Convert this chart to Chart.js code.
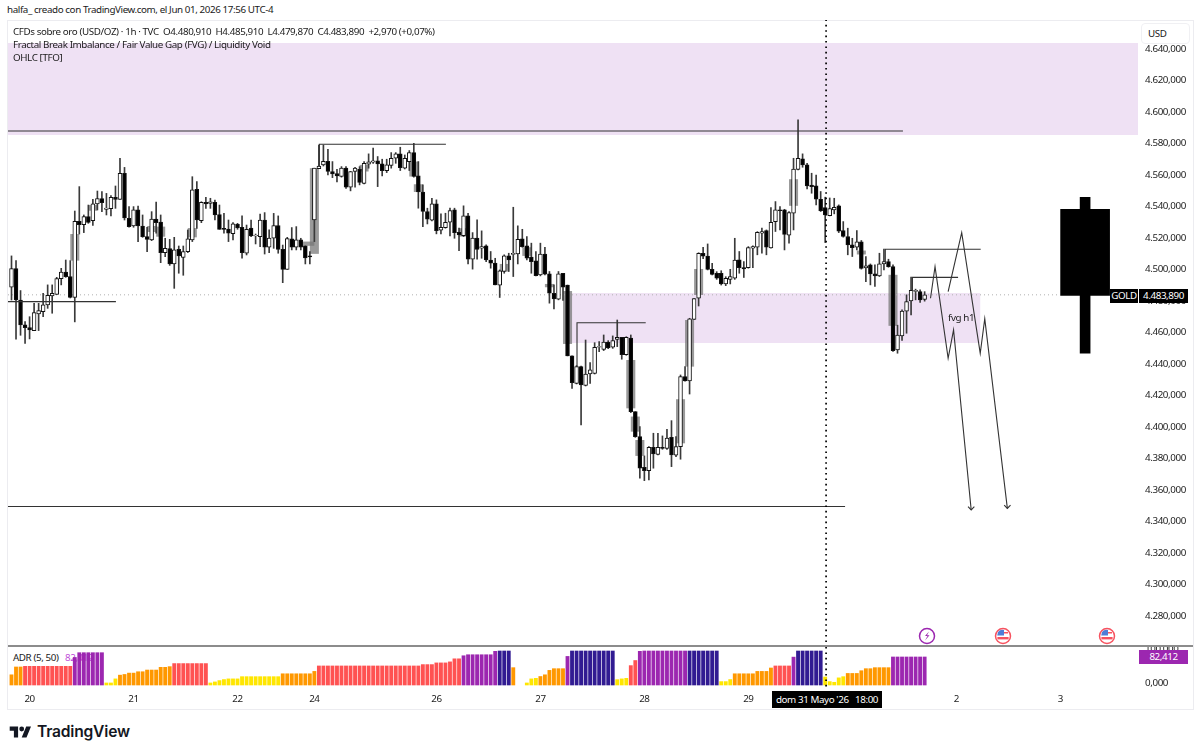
<!DOCTYPE html>
<html>
<head>
<meta charset="utf-8">
<title>XAUUSD 1h</title>
<script src="https://cdn.jsdelivr.net/npm/chart.js@4"></script>
<style>
	html, body { margin: 0; padding: 0; background: #fff; width: 1200px; height: 755px; overflow: hidden; }
	body { font-family: "Noto Sans", sans-serif; color: #1a1a1a; }
	.t { position: absolute; white-space: pre; font-size: 9.8px; letter-spacing: -0.4px; line-height: 13px; }
	canvas { position: absolute; }
	#frame { position: absolute; left: 7px; top: 20px; width: 1185px; height: 688px; border: 1px solid #ececf0; }
	#sep { position: absolute; left: 8px; top: 645px; width: 1185px; height: 2px; background: #8c8c8c; }
	#usd { position: absolute; left: 1141px; top: 23px; width: 47px; height: 19px; border: 1px solid #f0f0f3; border-radius: 4px; background: #fff; }
	.blk { position: absolute; background: #000; color: #fff; font-size: 9.8px; letter-spacing: -0.4px; line-height: 14px; text-align: center; white-space: pre; }
	svg { position: absolute; }
</style>
</head>
<body>
<div id="frame"></div>
<div class="t" style="left:7px;top:3px">halfa_ creado con TradingView.com, el Jun 01, 2026 17:56 UTC-4</div>

<div class="t" style="left:13px;top:651px;z-index:0">ADR (5, 50)</div>
<div class="t" style="left:65px;top:651px;color:#c04fd8;z-index:0">82,412</div>

<canvas id="price" width="1185" height="626" style="left:8px;top:20px;z-index:1"></canvas>
<canvas id="adr" width="1185" height="63" style="left:8px;top:646px;z-index:1"></canvas>

<div id="sep" style="z-index:2"></div>
<div class="t" style="left:13px;top:25px;z-index:3">CFDs sobre oro (USD/OZ) · 1h · TVC  O4.480,910  H4.485,910  L4.479,870  C4.483,890  +2,970 (+0,07%)</div>
<div class="t" style="left:13px;top:38px;z-index:3">Fractal Break Imbalance / Fair Value Gap (FVG) / Liquidity Void</div>
<div class="t" style="left:13px;top:51px;z-index:3">OHLC [TFO]</div>
<div class="t" style="left:948px;top:311px;z-index:3">fvg h1</div>
<div id="usd" style="z-index:3"></div>
<div class="t" style="left:1148px;top:27px;z-index:3">USD</div>
<div class="blk" style="left:1110px;top:289px;width:28px;height:14px;z-index:3">GOLD</div>
<div class="blk" style="left:1139px;top:289px;width:49px;height:14px;z-index:3">4.483,890</div>
<div class="blk" style="left:1139px;top:650px;width:49px;height:14px;background:#9c27b0;z-index:3">82,412</div>
<div class="blk" style="left:772px;top:691px;width:110px;height:17px;line-height:17px;z-index:3">dom 31 Mayo '26   18:00</div>

<svg style="left:917px;top:626px;z-index:3" width="20" height="20" viewBox="0 0 20 20">
	<circle cx="10" cy="10" r="7.5" fill="#fff" stroke="#9c27b0" stroke-width="1.5"/>
	<path d="M12 5.5 L8 10 L10.5 10 L8 14.5 L12.5 9.2 L10 9.2 Z" fill="#9c27b0"/>
</svg>
<svg style="left:993px;top:626px;z-index:3" width="20" height="20" viewBox="0 0 20 20">
	<circle cx="10" cy="10" r="7.5" fill="#fff" stroke="#f7525f" stroke-width="1.5"/>
	<path d="M5 6 A6 6 0 0 1 11 4 L11 9.5 L4.2 9.5 Z" fill="#4f7dd6"/>
	<rect x="4.4" y="11" width="11.2" height="2.4" fill="#f7525f"/>
	<path d="M11 6 h4 v1.5 h-4z" fill="#f7525f"/>
</svg>
<svg style="left:1097px;top:626px;z-index:3" width="20" height="20" viewBox="0 0 20 20">
	<circle cx="10" cy="10" r="7.5" fill="#fff" stroke="#f7525f" stroke-width="1.5"/>
	<path d="M5 6 A6 6 0 0 1 11 4 L11 9.5 L4.2 9.5 Z" fill="#4f7dd6"/>
	<rect x="4.4" y="11" width="11.2" height="2.4" fill="#f7525f"/>
	<path d="M11 6 h4 v1.5 h-4z" fill="#f7525f"/>
</svg>

<svg style="left:9px;top:726px" width="23" height="12" viewBox="0 3 36 20">
	<path d="M14 22H7V11H0V4h14v18zM28 22h-8l7.5-18h8L28 22z" fill="#131722"/>
	<circle cx="20" cy="8" r="4" fill="#131722"/>
</svg>
<div class="t" style="left:37px;top:722px;font-family:Inter,sans-serif;font-size:15.6px;line-height:20px;font-weight:600;color:#131722;letter-spacing:-0.2px">TradingView</div>

<script>
// hourly bars, one row = 10 bars
const opens = [
	4488.7,4500.5,4480.6,4464.8,4463.1,4461.2,4471.7,4473.2,4477.5,4483.2,
	4484.2,4494.2,4498.4,4495.4,4482.3,4530.6,4528.5,4533.5,4531,4541.6,
	4545,4538.2,4538.6,4545.8,4544.5,4561,4532.5,4527.6,4537.8,4527.6,
	4520.8,4518.7,4532,4530.1,4510.7,4513.2,4503.5,4512.8,4507.7,4511.3,
	4518.7,4550.9,4531,4542.6,4542,4542.6,4534.8,4526.1,4525.7,4522.7,
	4528.7,4526.8,4510.3,4526.3,4521.3,4520.8,4531.4,4514.1,4519.8,4527.8,
	4512.8,4500.1,4519.4,4514.1,4518.8,4515,4508.6,4531.5,4564,4566.4,
	4568.7,4562.2,4560.9,4559,4564.3,4552.2,4562.2,4563.6,4554.7,4566.8,
	4568.1,4568.9,4567,4562.8,4566,4570.6,4573.4,4564.3,4568.5,4574.2,
	4559.4,4549.2,4536.8,4531.3,4541.6,4524.9,4526.6,4530,4537.8,4523.6,
	4521.5,4534,4506.5,4520,4513.5,4515,4505.9,4504,4490,4498.7,
	4508.6,4509.5,4509.9,4519.4,4515,4507.8,4505.4,4496.6,4509.7,4497.2,
	4484.9,4481.1,4497.6,4490.1,4445.1,4427.7,4438.3,4426.4,4433.6,4434,
	4450.6,4449.3,4453.9,4450.6,4455.6,4456.9,4445.9,4456.5,4409.7,4393.9,
	4374.4,4372.3,4387.1,4382.6,4387.1,4386.3,4393.4,4382,4387.5,4432,
	4429.2,4468.3,4481.7,4510.2,4508.5,4500.1,4497.5,4497.5,4490.8,4493.7,
	4494.4,4506.1,4501.2,4501.2,4513.5,4514.1,4523,4524.7,4513.7,4530.4,
	4537.8,4537.8,4521.7,4535.7,4563.6,4570.2,4566.4,4553.5,4553.1,4544.6,
	4539.3,4534.2,4537.8,4540.4,4524.7,4520.9,4515.6,4514.1,4517.5,4501,
	4502.9,4497.2,4495.9,4503.5,4505,4501.8,4448.9,4457.8,4473.5,4480,
	4486,4486,4480.91
];
const closes = [
	4500.5,4480.6,4464.8,4463.1,4461.6,4472.6,4473.9,4477.5,4483.6,4484.9,
	4494.2,4498.4,4495.4,4482.3,4530.6,4528.5,4533.5,4529.9,4541.6,4545,
	4542.4,4539,4545.8,4544.5,4561,4532.7,4527.2,4537.8,4527.6,4520.8,
	4519.1,4532,4529.7,4510.7,4513.4,4503.5,4512.4,4508.6,4511.3,4519.4,
	4550.5,4531.4,4542.6,4541.6,4543,4534.6,4525.5,4525.5,4523,4528.9,
	4526.3,4510.7,4525.5,4521.3,4521.7,4531.4,4514.1,4520,4527.8,4512.8,
	4500.1,4519.6,4514.1,4518.8,4514.1,4507.3,4508,4564.3,4565.7,4568.7,
	4562.2,4560.7,4559.4,4564.3,4552.2,4562.2,4564.3,4555.2,4567.4,4568.3,
	4568.9,4567,4562.8,4566.4,4570.6,4573.4,4564.7,4570.6,4574.2,4559,
	4549.2,4536.8,4531.9,4541.6,4524.7,4526.8,4530,4537.4,4523.4,4521.9,
	4534,4506.5,4520,4512.8,4514.5,4506.1,4504,4490.2,4499.1,4508.6,
	4506.1,4510.3,4519.2,4514.5,4507.1,4505,4496.1,4509.7,4497,4484.9,
	4481.3,4497.2,4488.7,4445.1,4428.1,4438.3,4426.7,4433.6,4436.2,4450.6,
	4451,4453.9,4450.1,4454.8,4456.9,4445.9,4456.9,4409.7,4393.9,4373.8,
	4372.3,4387.1,4382.9,4387.1,4386.3,4393,4382.2,4387.5,4432,4429.2,
	4468.6,4481.5,4510.2,4508.5,4500.1,4496.9,4494.4,4490.8,4494.4,4495.4,
	4506,4501.2,4500.4,4513.9,4514.5,4523.6,4524,4514.1,4530,4537.8,
	4537.4,4522.2,4536.1,4563.8,4570.6,4566.4,4553.1,4552.6,4544.6,4537.4,
	4534.6,4538.7,4539.5,4524.3,4520.9,4515.6,4513.9,4517.5,4500.6,4502.3,
	4497.2,4495.9,4503.5,4505,4501.8,4448.5,4458.3,4473.5,4479.6,4486.8,
	4486.8,4480.7,4483.89
];
const highs = [
	4508.6,4505.6,4486.6,4466.9,4470,4478.5,4478.5,4484.9,4490.2,4490.2,
	4495,4500.7,4506,4505.6,4537.1,4552.6,4534.6,4540.9,4544.5,4549.8,
	4549.4,4548.3,4546.9,4553,4570.6,4564.8,4539.9,4539.9,4540.3,4534.6,
	4526.8,4536.7,4542.8,4534.6,4519.8,4519.1,4520.4,4514.9,4514.9,4525.1,
	4558.9,4555.8,4543,4545.8,4545.2,4544.1,4540.9,4535.6,4531.4,4529.7,
	4529.3,4534,4528.2,4531.4,4522.5,4535.2,4536.1,4525.1,4535.6,4534,
	4515.5,4520.4,4526.6,4527.2,4519.8,4515,4511.4,4564.3,4579,4579,
	4576.3,4568.5,4563.6,4565.3,4565.3,4562.2,4564.9,4565.3,4568.5,4573.4,
	4577,4571.7,4570,4570,4574.2,4574.2,4577.6,4572.7,4575.5,4580.1,
	4568.5,4553.7,4538.9,4545.2,4544.2,4535.3,4535.7,4538.9,4538.9,4526.2,
	4540.4,4535.7,4523.4,4531.5,4524.5,4515.6,4511.4,4507.1,4499.7,4509.3,
	4510.3,4539.5,4527.7,4525.5,4520.9,4516.7,4511.4,4516.7,4514.1,4498.7,
	4490.2,4498.7,4497.6,4490.1,4445.1,4439,4438.7,4455.2,4440.8,4453.5,
	4454.2,4458.4,4454.8,4457.8,4467.9,4456.9,4457.3,4458.4,4409.7,4400.2,
	4381.6,4387.5,4396,4396,4394.3,4398.5,4404,4393.9,4433,4438.3,
	4469,4481.5,4510.6,4514,4516.2,4503.9,4498.6,4499.2,4495.4,4500.1,
	4519.8,4511.4,4505,4514.5,4515,4524,4526.2,4525.1,4539.3,4543.1,
	4539.9,4538.2,4536.8,4570.6,4595,4573.4,4567.4,4561.1,4560,4549.5,
	4545.9,4545.4,4545.2,4541,4530.4,4526.2,4519.8,4524.7,4518.4,4508.2,
	4503.5,4502.9,4510.3,4512.9,4506.5,4502.9,4464.6,4474.3,4483.9,4495.1,
	4487.5,4487,4485.91
];
const lows = [
	4480.6,4455.7,4458.2,4453.1,4455.9,4461.2,4461.2,4470,4475.3,4472.2,
	4484.2,4490.2,4495,4481.9,4466.7,4522.5,4523.4,4529.3,4528,4537.8,
	4536.7,4534.6,4534,4538.8,4544.5,4531.4,4526.8,4526.8,4517.7,4520.4,
	4511.3,4518.3,4523,4504.3,4508.1,4502.6,4488,4497.6,4496.3,4510.7,
	4517.7,4526.1,4529.7,4538.8,4538.8,4531.4,4525.5,4523,4517.7,4518.7,
	4525.5,4507.1,4509.2,4520.8,4516.2,4514.5,4509.8,4510.7,4513.4,4510.3,
	4491.6,4500.1,4512.4,4512.4,4512.4,4503.5,4503.5,4517.7,4564,4565.7,
	4560,4558.3,4555.6,4558.6,4551.4,4549.9,4552.2,4553.7,4554.3,4564.3,
	4567.4,4552.6,4559.4,4561.5,4564.3,4567.4,4562.8,4563.8,4562.8,4558.6,
	4538.9,4527.2,4528.9,4530.8,4522.6,4522.6,4526.2,4521.3,4519.8,4512,
	4520.9,4503.5,4500.2,4506.5,4507.1,4505,4500.8,4490.2,4482.2,4497.6,
	4498.7,4495.5,4503.5,4514.1,4506.1,4497.6,4495.9,4495.9,4496.6,4478.6,
	4475,4480.7,4480.3,4445.1,4424.5,4427.3,4401.3,4426,4427.7,4433.6,
	4447.8,4448.5,4449.7,4449.9,4451,4443,4445.5,4409.1,4393.4,4367.4,
	4365.9,4366.4,4373.8,4382.2,4385.8,4385.8,4374.8,4381.2,4379.5,4429,
	4420.9,4468.3,4476.8,4506.9,4499.7,4496.5,4493.7,4490.1,4489.7,4490.8,
	4493.7,4497.6,4494.9,4500.8,4501.2,4509.3,4510.3,4509.3,4513.5,4524.1,
	4525.1,4512.4,4516.7,4525.1,4563.2,4564.9,4551.2,4548.4,4541,4536.8,
	4517.1,4534,4535.3,4523.4,4520.5,4509.3,4508.2,4512.4,4500.2,4492.3,
	4490.2,4489.2,4495.5,4499.7,4501.4,4447.9,4446.8,4454.9,4459.5,4471.2,
	4480.7,4479,4479.87
];

const adrValues = [
	30,53,53,55,55,55,55,55,55,55,
	55,55,55,55,81,95,95,95,95,95,
	95,6,6,18,29,31,35,35,39,39,
	44,44,44,52,52,54,63,63,63,63,
	63,63,63,63,6,9,13,16,18,18,
	18,24.5,24.5,24.5,24.5,24.5,24.5,24.5,24.5,24.5,
	33,33,33,33,33,33,33,40,56,56,
	56,56,56,56,56,56,56,56,56,56,
	56,56,56,56,56,56,56,56,56,56,
	56,60,60,60,65,65,65,68,77,77,
	86,89,89,89,89,89,89,99,100,100,
	100,51,null,null,6,18,19.6,25,30,43,
	48,48,48,84,100,100,100,100,100,100,
	100,100,100,100,15.7,18,19.6,57,72,99,
	100,100,100,100,100,100,100,100,100,100,
	100,100,100,100,100,100,100,10,10,16,
	33,33,33,33,33,40,40,40,50,56,
	56,56,56,82,100,100,100,100,100,100,
	23.5,10,8,21,24.5,34,34,34,42,48,
	48,51,51,51,51,82.4,82.4,82.4,82.4,82.4,
	82.4,82.4,82.4
];
const adrBands = [
	'ooorrrrrrr','rrrrpppppp','pyyyoooooo','oooooorrrr','rrrryyyyyy',
	'yyyyyyyyyy','oooooooorr','rrrrrrrrrr','rrrrrrrrrr','rrrrrrrrrr',
	'ppppppppbb','bo--yyyooo','ooopbbbbbb','bbbbyyyrrp','pppppppppp',
	'bbbbbbbyyy','ooooooooor','rrrpbbbbbb','yyyyyooooo','oooooppppp','ppp'
].join('').split('');
const bandColors = { y: '#ffe600', o: '#ff9800', r: '#ff5252', p: '#9c27b0', b: '#311b92', '-': 'transparent' };

const priceTicksStep = 20;
const lastClose = 4483.89;
const crosshairBar = 180.2;
const timeTickBars = [4, 27, 50, 67, 94, 117, 140, 163, 186, 209, 232];
const timeTickLabels = ['20', '21', '22', '24', '26', '27', '28', '29', '1', '2', '3'];

// [first bar, last bar, top, bottom]
const fvgZones = [
	[-1, 250, 4643.8, 4585.4],
	[123.1, 214.3, 4485, 4453.3]
];
const imbalanceBoxes = [
	[13, 15, 4522.5, 4505.6], [17, 19, 4540.9, 4537.3], [30, 32, 4527.6, 4523.8], [32, 34, 4527.2, 4520.8],
	[39, 41, 4526.3, 4520.4], [66, 68, 4564.3, 4509.9], [64, 67, 4517.7, 4515], [77, 79, 4566.4, 4562.2],
	[88, 90, 4568.5, 4559], [89, 91, 4554.1, 4549.2], [99, 101, 4526.2, 4520.9], [108, 110, 4503.5, 4498.7],
	[113, 115, 4514.1, 4508.6], [118, 120, 4490.8, 4488.7], [122, 124, 4486.3, 4452.7], [136, 138, 4442.5, 4411.8],
	[137, 139, 4406.6, 4397], [138, 140, 4391.7, 4381.6], [147, 149, 4417.6, 4389.6], [149, 151, 4467.9, 4438.3],
	[151, 153, 4500.3, 4483.8], [172, 174, 4557.3, 4540.4], [187, 189, 4512, 4509.5], [194, 196, 4496.6, 4464.2]
];

// hand drawn lines, each is bars + prices
const lineBars = [
	[-1, 197.2], [-1, 184.4], [-1, 23.1],
	[68.1, 68.1, 96.1], [125.1, 125.1, 140.3], [193.3, 193.3, 214.4], [199.3, 199.3, 209.4],
	[203.3, 204.3, 207.2, 208.4, 212.3], [211.6, 212.3, 213],
	[207.2, 210.2, 214.3, 215.3, 220.3], [219.6, 220.3, 221]
];
const linePrices = [
	[4587.9, 4587.9], [4349.5, 4349.5], [4479.6, 4479.6],
	[4565.1, 4579.5, 4579.5], [4438, 4466.2, 4466.2], [4504.7, 4512.8, 4512.8], [4486.3, 4495, 4495],
	[4481.7, 4501.8, 4443.6, 4461.6, 4347.3], [4349.4, 4347.3, 4349.4],
	[4485.9, 4523.4, 4446.8, 4468.7, 4348.3], [4350.4, 4348.3, 4350.4]
];

// TFO higher timeframe candle on the right
const htfBar = 237.5;
const htfOpen = 4538.2, htfHigh = 4545.8, htfLow = 4446.8, htfClose = 4483.5;

const xMin = -0.774, xMax = 249.2;
const tickFont = { family: '"Noto Sans", sans-serif', size: 9.8 };
const bars = opens.map((o, i) => i);

function priceLabel(v) {
	return v.toLocaleString('de-DE', { minimumFractionDigits: 3, maximumFractionDigits: 3 });
}

// keep the plot area at full canvas height, labels may hang over the edge
function fitAxis(s) {
	s.width = 55;
	s.paddingTop = 0;
	s.paddingBottom = 0;
}

const tightText = {
	id: 'tightText',
	beforeDraw(chart) { chart.ctx.letterSpacing = '-0.4px'; }
};

const boxesPlugin = {
	id: 'boxes',
	beforeDatasetsDraw(chart) {
		const { ctx, chartArea, scales: { x, y } } = chart;
		ctx.save();
		ctx.beginPath();
		ctx.rect(chartArea.left, chartArea.top, chartArea.width, chartArea.height);
		ctx.clip();
		const fill = (list, color) => {
			ctx.fillStyle = color;
			list.forEach(b => {
				const x0 = x.getPixelForValue(b[0]), x1 = x.getPixelForValue(b[1]);
				const y0 = y.getPixelForValue(b[2]), y1 = y.getPixelForValue(b[3]);
				ctx.fillRect(x0, y0, x1 - x0, y1 - y0);
			});
		};
		fill(fvgZones, '#efe1f4');
		fill(imbalanceBoxes, 'rgba(120,120,120,0.75)');
		ctx.restore();
	}
};

function hLine(xs, ys, color, width, dash, order) {
	return {
		type: 'line',
		data: xs.map((v, i) => ({ x: v, y: ys[i] })),
		borderColor: color,
		borderWidth: width,
		borderDash: dash || [],
		pointRadius: 0,
		tension: 0,
		order: order
	};
}

const priceDatasets = [
	hLine([xMin, 232], [lastClose, lastClose], '#b0b0b0', 1, [1, 3], 9),
	{
		type: 'bar',
		data: bars.map(i => ({ x: i, y: [lows[i], highs[i]] })),
		backgroundColor: '#3a3a3a',
		barThickness: 1,
		order: 8
	},
	{
		type: 'bar',
		data: bars.map(i => ({ x: i, y: [opens[i], closes[i]] })),
		backgroundColor: bars.map(i => closes[i] >= opens[i] ? '#fff' : '#000'),
		borderColor: '#111',
		borderWidth: 1,
		borderSkipped: false,
		barThickness: 3.9,
		order: 7
	},
	{
		type: 'bar',
		data: [{ x: htfBar, y: [htfLow, htfHigh] }],
		backgroundColor: '#000',
		barThickness: 10,
		order: 6
	},
	{
		type: 'bar',
		data: [{ x: htfBar, y: [htfOpen, htfClose] }],
		backgroundColor: '#000',
		barThickness: 49,
		order: 5
	}
];
lineBars.forEach((xs, i) => {
	priceDatasets.push(hLine(xs, linePrices[i], '#333', 1.1, null, 3));
});
priceDatasets.push(hLine([crosshairBar, crosshairBar], [4260, 4660], '#000', 1.7, [1.6, 3.8], 1));

new Chart(document.getElementById('price'), {
	data: { datasets: priceDatasets },
	plugins: [boxesPlugin, tightText],
	options: {
		responsive: false,
		animation: false,
		devicePixelRatio: 1,
		layout: { padding: 0, autoPadding: false },
		datasets: { bar: { grouped: false } },
		plugins: { legend: { display: false }, tooltip: { enabled: false } },
		scales: {
			x: { type: 'linear', display: false, offset: false, min: xMin, max: xMax, grid: { display: false, offset: false } },
			y: {
				position: 'right',
				min: 4260.9,
				max: 4658.4,
				afterFit: fitAxis,
				border: { display: false },
				grid: { display: false, drawTicks: false },
				ticks: {
					stepSize: priceTicksStep,
					includeBounds: false,
					autoSkip: false,
					padding: 7,
					color: '#222',
					font: tickFont,
					callback: priceLabel
				}
			}
		}
	}
});

new Chart(document.getElementById('adr'), {
	data: {
		datasets: [
			hLine([crosshairBar, crosshairBar], [-20, 120], '#000', 1.7, [1.6, 3.8], 1),
			{
				type: 'bar',
				data: bars.map(i => ({ x: i, y: adrValues[i] })),
				backgroundColor: bars.map(i => bandColors[adrBands[i]]),
				barThickness: 3.2,
				order: 2
			}
		]
	},
	plugins: [tightText],
	options: {
		responsive: false,
		animation: false,
		devicePixelRatio: 1,
		layout: { padding: 0, autoPadding: false },
		datasets: { bar: { grouped: false } },
		plugins: { legend: { display: false }, tooltip: { enabled: false } },
		scales: {
			x: {
				type: 'linear',
				offset: false,
				min: xMin,
				max: xMax,
				afterFit: s => { s.height = 19; s.paddingLeft = 0; s.paddingRight = 0; },
				afterBuildTicks: s => { s.ticks = timeTickBars.map(v => ({ value: v })); },
				border: { display: false },
				grid: { display: false, offset: false, drawTicks: false },
				ticks: {
					autoSkip: false,
					minRotation: 0,
					maxRotation: 0,
					padding: 3,
					color: '#222',
					font: tickFont,
					callback: v => timeTickLabels[timeTickBars.indexOf(v)]
				}
			},
			y: {
				position: 'right',
				min: -14.7,
				max: 114.7,
				afterFit: fitAxis,
				afterBuildTicks: s => { s.ticks = [{ value: 0 }, { value: 100 }]; },
				border: { display: false },
				grid: { display: false, drawTicks: false },
				ticks: {
					autoSkip: false,
					padding: 7,
					labelOffset: -2,
					color: '#222',
					font: tickFont,
					callback: priceLabel
				}
			}
		}
	}
});
</script>
</body>
</html>
